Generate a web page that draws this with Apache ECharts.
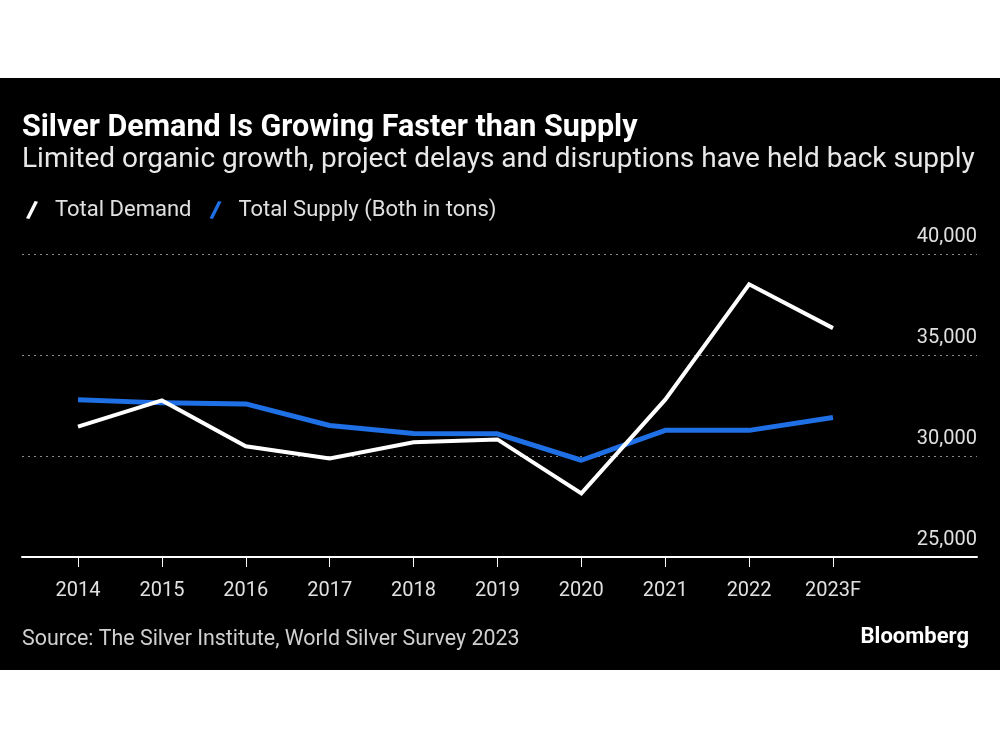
<!DOCTYPE html>
<html>
<head>
<meta charset="utf-8">
<script src="https://cdn.jsdelivr.net/npm/echarts@6/dist/echarts.min.js"></script>
<style>
  html, body { margin: 0; padding: 0; background: #fff; }
  #chart { width: 1000px; height: 750px; }
</style>
</head>
<body>
<div id="chart"></div>
<script>
const years = ['2014', '2015', '2016', '2017', '2018', '2019', '2020', '2021', '2022', '2023F'];
const demand = [31450, 32750, 30480, 29880, 30680, 30820, 28150, 32790, 38500, 36330];
const supply = [32790, 32630, 32580, 31510, 31110, 31100, 29790, 31270, 31270, 31910];
const yTicks = [25000, 30000, 35000, 40000];

const FONT = 'Roboto';
const chart = echarts.init(document.getElementById('chart'), null, { renderer: 'canvas' });

const idx = years.map((_, i) => i);
const option = {
  backgroundColor: '#ffffff',
  animation: false,
  textStyle: { fontFamily: FONT },
  graphic: [
    { type: 'rect', z: -10, shape: { x: 0, y: 78, width: 1000, height: 592 }, style: { fill: '#000000' } },
    { type: 'text', left: 22, top: 113, style: { text: 'Silver Demand Is Growing Faster than Supply', fill: '#ffffff', font: 'bold 30.5px ' + FONT } },
    { type: 'text', left: 22, top: 146, style: { text: 'Limited organic growth, project delays and disruptions have held back supply', fill: '#e8e8e8', font: '28px ' + FONT } },
    { type: 'text', left: 22, top: 629, style: { text: 'Source: The Silver Institute, World Silver Survey 2023', fill: '#d0d0d0', font: '21.4px ' + FONT } },
    { type: 'text', right: 31, top: 626, style: { text: 'Bloomberg', fill: '#ffffff', font: 'bold 22px ' + FONT } }
  ],
  legend: {
    left: 21, top: 194,
    itemWidth: 12, itemHeight: 19, itemGap: 18,
    textStyle: { color: '#e0e0e0', fontSize: 22, fontFamily: FONT, padding: [0, 0, 0, 12] },
    data: [
      { name: 'Total Demand', icon: 'path://M9,0 L12.5,1 L3.5,19 L0,18 Z' },
      { name: 'Total Supply (Both in tons)', icon: 'path://M9,0 L12.5,1 L3.5,19 L0,18 Z' }
    ]
  },
  grid: { left: 22, right: 23, top: 254, bottom: 193, containLabel: false },
  xAxis: {
    type: 'value',
    min: -(78 - 22) / ((833 - 78) / 9),
    max: 9 + (977 - 833) / ((833 - 78) / 9),
    axisLine: { show: true, lineStyle: { color: '#ffffff', width: 2 } },
    axisTick: { show: true, customValues: idx, length: 10, lineStyle: { color: '#ffffff', width: 1 } },
    axisLabel: { show: true, customValues: idx, formatter: v => years[Math.round(v)], color: '#e0e0e0', fontSize: 20, margin: 24 },
    splitLine: { show: false }
  },
  yAxis: {
    type: 'value',
    position: 'right',
    min: 25000, max: 40000, interval: 5000,
    axisLine: { show: false },
    axisTick: { show: false },
    axisLabel: {
      inside: true, margin: 0, verticalAlign: 'bottom', color: '#e0e0e0', fontSize: 20,
      padding: [0, 0, 7, 0],
      formatter: v => v.toLocaleString('en-US')
    },
    splitLine: { show: true, lineStyle: { color: '#8a8a8a', width: 1, type: [2, 4] } }
  },
  series: [
    {
      name: 'Total Demand', type: 'line', symbol: 'none', z: 3,
      data: demand.map((v, i) => [i, v]),
      lineStyle: { color: '#ffffff', width: 4, join: 'miter' },
      itemStyle: { color: '#ffffff' }
    },
    {
      name: 'Total Supply (Both in tons)', type: 'line', symbol: 'none', z: 2,
      data: supply.map((v, i) => [i, v]),
      lineStyle: { color: '#1f6fe5', width: 5 },
      itemStyle: { color: '#1f6fe5' }
    }
  ]
};
chart.setOption(option);
</script>
</body>
</html>
